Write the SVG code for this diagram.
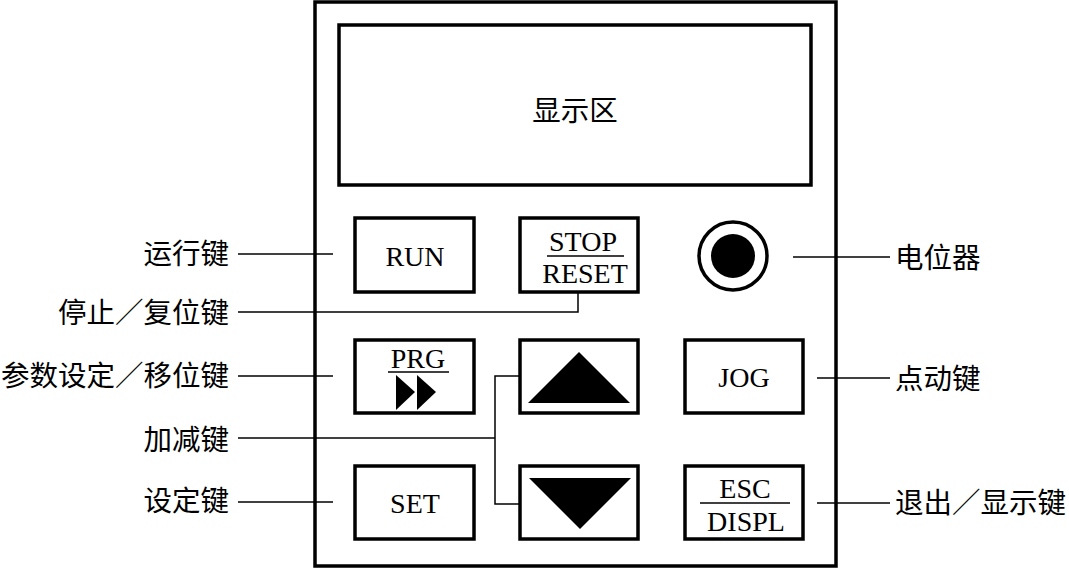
<svg xmlns="http://www.w3.org/2000/svg" width="1069" height="570" viewBox="0 0 1069 570">
<style>
.box{fill:#fff;stroke:#000;stroke-width:3.5}
.panel{fill:#fff;stroke:#000;stroke-width:3.5}
.con{fill:none;stroke:#000;stroke-width:1.5}
.lbl{font-family:"Noto Sans CJK SC","Noto Sans CJK TC",sans-serif;font-size:28.5px;fill:#000}
.btn{font-family:"Liberation Serif","Times New Roman",serif;font-size:28px;fill:#000;text-anchor:middle}
.sep{stroke:#000;stroke-width:1.5}
</style>
<rect width="1069" height="570" fill="#fff"/>
<g id="panel">
<rect class="panel" x="315" y="2" width="521" height="564"/>
</g>
<g id="display">
<rect class="box" x="339" y="25" width="472" height="160"/>
<text class="lbl" x="575" y="121" text-anchor="middle">显示区</text>
</g>
<g id="connectors">
<polyline class="con" points="238,254 333,254"/>
<polyline class="con" points="238,312 578,312 578,293"/>
<polyline class="con" points="238,376 333,376"/>
<polyline class="con" points="238,438 495,438"/>
<polyline class="con" points="520,376 495,376 495,504 520,504"/>
<polyline class="con" points="238,502 333,502"/>
<polyline class="con" points="793,257 890,257"/>
<polyline class="con" points="817,378 890,378"/>
<polyline class="con" points="817,503 890,503"/>
</g>
<g id="run">
<rect class="box" x="355" y="218" width="119" height="74"/>
<text class="btn" x="415" y="266">RUN</text>
</g>
<g id="stop">
<rect class="box" x="520" y="218" width="118" height="74"/>
<text class="btn" x="583" y="251">STOP</text>
<line class="sep" x1="547" y1="256" x2="624" y2="256"/>
<text class="btn" x="585" y="283">RESET</text>
</g>
<g id="pot">
<circle cx="733" cy="256" r="34" fill="#fff" stroke="#000" stroke-width="3.5"/>
<circle cx="733" cy="256" r="22" fill="#000"/>
</g>
<g id="prg">
<rect class="box" x="355" y="340" width="119" height="73"/>
<text class="btn" x="418" y="368">PRG</text>
<line class="sep" x1="388" y1="372" x2="449" y2="372"/>
<polygon points="396,375 415,392 396,410" fill="#000"/>
<polygon points="417,375 436,392 417,410" fill="#000"/>
</g>
<g id="up">
<rect class="box" x="520" y="340" width="118" height="73"/>
<polygon points="528,403 579,352 630,403" fill="#000"/>
</g>
<g id="jog">
<rect class="box" x="685" y="340" width="118" height="73"/>
<text class="btn" x="744" y="387">JOG</text>
</g>
<g id="set">
<rect class="box" x="355" y="466" width="119" height="73"/>
<text class="btn" x="415" y="513">SET</text>
</g>
<g id="down">
<rect class="box" x="520" y="466" width="118" height="73"/>
<polygon points="529,478 631,478 580,529" fill="#000"/>
</g>
<g id="esc">
<rect class="box" x="685" y="466" width="118" height="73"/>
<text class="btn" x="745" y="498">ESC</text>
<line class="sep" x1="700" y1="503" x2="790" y2="503"/>
<text class="btn" x="746" y="531">DISPL</text>
</g>
<g id="labels">
<text class="lbl" x="229" y="264" text-anchor="end">运行键</text>
<text class="lbl" x="229" y="323" text-anchor="end">停止／复位键</text>
<text class="lbl" x="229" y="386" text-anchor="end">参数设定／移位键</text>
<text class="lbl" x="229" y="450" text-anchor="end">加减键</text>
<text class="lbl" x="229" y="511" text-anchor="end">设定键</text>
<text class="lbl" x="895" y="268">电位器</text>
<text class="lbl" x="895" y="389">点动键</text>
<text class="lbl" x="895" y="513">退出／显示键</text>
</g>
</svg>
